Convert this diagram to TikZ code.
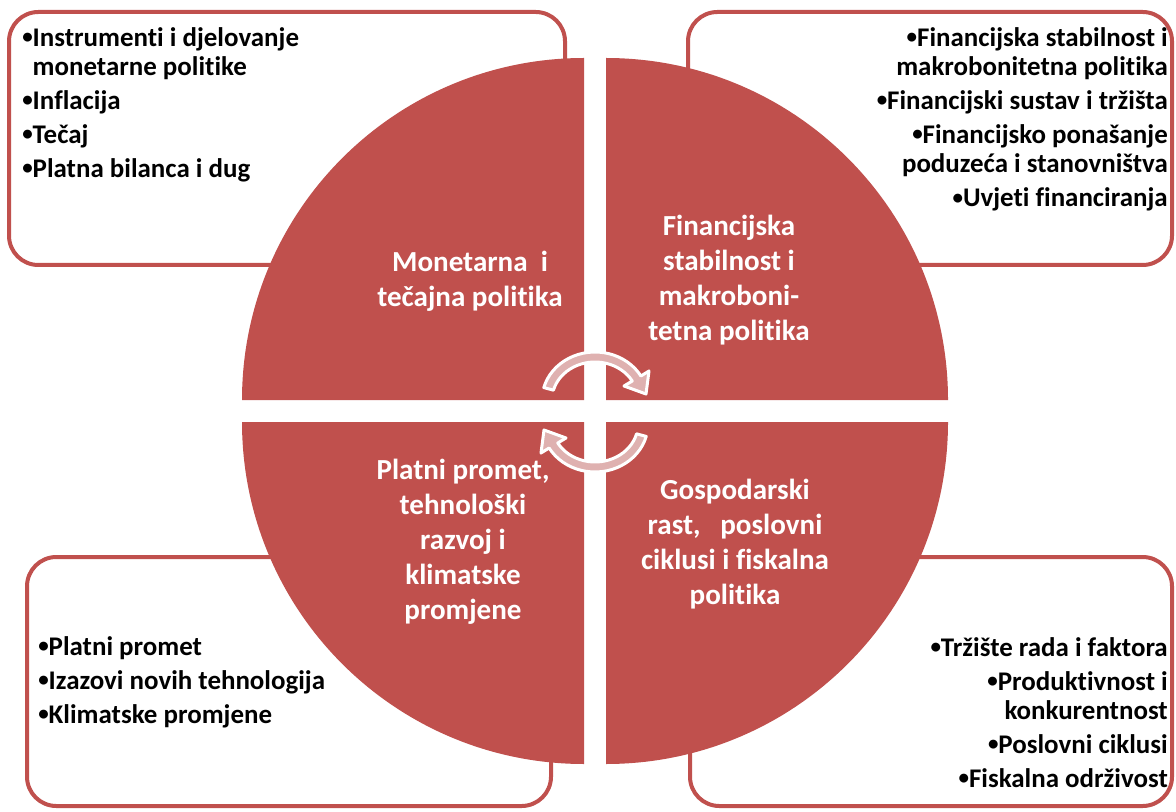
\documentclass[tikz,border=0pt]{standalone}
\usepackage{graphicx}
\usepackage{fontspec}
\setmainfont{Carlito}[Ligatures=NoCommon]
\definecolor{cbred}{RGB}{192,80,77}
\definecolor{cbpink}{RGB}{223,177,176}
\newcommand{\bul}{\raisebox{0.1em}{\scalebox{0.78}{•}}}

\begin{document}
\begin{tikzpicture}[x=0.75pt,y=-0.75pt,
        box/.style={draw=cbred,line width=3pt,fill=white,rounded corners=22pt},
        quad/.style={fill=cbred},
        title/.style={text=white,font=\bfseries\fontsize{21.8}{26.25}\selectfont,align=center,inner sep=0pt},
        item/.style={font=\bfseries\fontsize{20.2}{22}\selectfont,inner sep=0pt},
        turn/.style={fill=cbpink,draw=white,line width=2.25pt,line join=round}]
        \useasboundingbox (0,0) rectangle (1176,812);

        % corner boxes
        \draw[box] (9,12) rectangle (565,265);
        \draw[box] (688,12) rectangle (1172,265);
        \draw[box] (27,557) rectangle (551,806);
        \draw[box] (690,557) rectangle (1172,806);

        % the four quarters
        \fill[quad] (584,400) -- (242,400) arc[start angle=180,end angle=90,radius=256.5pt] -- cycle;
        \fill[quad] (606,400) -- (606,58) arc[start angle=90,end angle=0,radius=256.5pt] -- cycle;
        \fill[quad] (584,422) -- (584,764) arc[start angle=270,end angle=180,radius=256.5pt] -- cycle;
        \fill[quad] (606,422) -- (948,422) arc[start angle=0,end angle=-90,radius=256.5pt] -- cycle;

        % round arrows
        \path[turn] plot[domain=195:330,samples=25] ({595+53*cos(\x)},{400+48*sin(\x)})
            -- (649,371) -- (646,394) -- (624,386)
            -- plot[domain=330:195,samples=25] ({595+43*cos(\x)},{400+38*sin(\x)}) -- cycle;
        \path[turn,rotate around={180:(595,412)}] plot[domain=195:330,samples=25] ({595+53*cos(\x)},{400+48*sin(\x)})
            -- (649,371) -- (646,394) -- (624,386)
            -- plot[domain=330:195,samples=25] ({595+43*cos(\x)},{400+38*sin(\x)}) -- cycle;

        \node[title] (mon) at (470,281) {Monetarna\ \ i\\tečajna politika};
        \node[title] (fin) at (729,280) {Financijska\\stabilnost i\\makroboni-\\tetna politika};
        \node[title] (pla) at (463,542) {Platni promet,\\tehnološki\\razvoj i\\klimatske\\promjene};
        \node[title] (gos) at (735,544) {Gospodarski\\rast,\ \ \ poslovni\\ciklusi i fiskalna\\politika};

        \node[item,anchor=north west,align=left] (monl) at (22,27) {\bul Instrumenti i djelovanje\\\phantom{\bul}monetarne politike\\[3.5pt]\bul Inflacija\\[3.5pt]\bul Tečaj\\[3.5pt]\bul Platna bilanca i dug};
        \node[item,anchor=north east,align=right] (finl) at (1168,27) {\bul Financijska stabilnost i\\makrobonitetna politika\\[3.5pt]\bul Financijski sustav i tržišta\\[3.5pt]\bul Financijsko ponašanje\\poduzeća i stanovništva\\[3.5pt]\bul Uvjeti financiranja};
        \node[item,anchor=north west,align=left] (plal) at (38,636) {\bul Platni promet\\[3.5pt]\bul Izazovi novih tehnologija\\[3.5pt]\bul Klimatske promjene};
        \node[item,anchor=north east,align=right] (gosl) at (1168,637) {\bul Tržište rada i faktora\\[3.5pt]\bul Produktivnost i\\konkurentnost\\[3.5pt]\bul Poslovni ciklusi\\[3.5pt]\bul Fiskalna održivost};
    \end{tikzpicture}
\end{document}
